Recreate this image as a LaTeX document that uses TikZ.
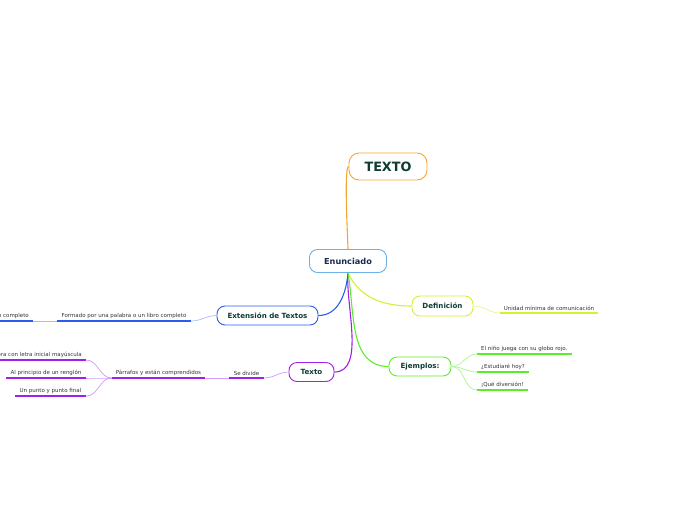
\documentclass[tikz,border=0pt]{standalone}
\usepackage{fontspec}
\setmainfont{DejaVu Sans}
\usetikzlibrary{positioning,arrows.meta}
\definecolor{mmtexto}{HTML}{0E3B34}
\definecolor{mmcentro}{HTML}{1A2A4C}
\definecolor{mmgris}{HTML}{333333}
\definecolor{mmnaranja}{HTML}{F7A531}
\definecolor{mmceleste}{HTML}{6CB2E8}
\definecolor{mmazul}{HTML}{2D5BEA}
\definecolor{mmazulclaro}{HTML}{A6C0F7}
\definecolor{mmmorado}{HTML}{A21EEB}
\definecolor{mmmoradoclaro}{HTML}{D39BF7}
\definecolor{mmamarillo}{HTML}{D2F232}
\definecolor{mmamarilloclaro}{HTML}{E8F88E}
\definecolor{mmverde}{HTML}{5AEE2A}
\definecolor{mmverdeclaro}{HTML}{A8F590}
\tikzset{
  mmtema/.style={draw, fill=white, rounded corners=8pt, line width=0.9pt, align=center,
                 text=mmtexto, font=\fontsize{7.1}{8}\selectfont\bfseries, inner sep=2pt},
  mmrama/.style={inner xsep=4pt, inner ysep=2.2pt, anchor=south, text=mmgris,
                 font=\fontsize{5.5}{6.5}\selectfont},
  mmlinea/.style={line width=1.1pt},
  mmfina/.style={line width=0.7pt},
}
% subrayado de las ramas
\newcommand{\mmsubraya}[2]{\draw[#1, line width=1.3pt] (#2.south west) -- (#2.south east);}

\begin{document}
\begin{tikzpicture}[x=1pt, y=-1pt]
        \useasboundingbox (0,0) rectangle (696,520);
        \clip (0,0) rectangle (696,520);
        % ---------------- temas ----------------
        \node[mmtema, draw=mmceleste, minimum width=77pt, minimum height=23pt, text=mmcentro,
              font=\fontsize{8.2}{9}\selectfont\bfseries] (enun) at (348,261) {Enunciado};
        \node[mmtema, draw=mmnaranja, minimum width=78pt, minimum height=27pt, rounded corners=10pt,
              font=\fontsize{12.8}{14}\selectfont\bfseries] (titulo) at (388,166.5) {TEXTO};
        \node[mmtema, draw=mmazul, minimum width=101pt, minimum height=19pt] (ext) at (267.5,315.5) {Extensión de Textos};
        \node[mmtema, draw=mmmorado, minimum width=45pt, minimum height=19pt] (txt) at (311.5,372) {Texto};
        \node[mmtema, draw=mmamarillo, minimum width=61pt, minimum height=20pt] (def) at (442.5,306) {Definición};
        \node[mmtema, draw=mmverde, minimum width=62pt, minimum height=19pt] (ejem) at (420,366.5) {Ejemplos:};
        % ---------------- ramas ----------------
        \node[mmrama, minimum width=134pt] (formado) at (124,321) {Formado por una palabra o un libro completo};
        \node[mmrama, anchor=south east] (libro) at (33,321) {Un libro completo};
        \node[mmrama, minimum width=35pt] (divide) at (246.5,378) {Se divide};
        \node[mmrama, minimum width=91pt] (parrafos) at (158.5,378) {Párrafos y están comprendidos};
        \node[mmrama, anchor=south east] (mayus) at (86,360) {Palabra con letra inicial mayúscula};
        \node[mmrama, minimum width=80pt] (renglon) at (46,378) {Al principio de un renglón};
        \node[mmrama, minimum width=71pt] (punto) at (50.5,396) {Un punto y punto final};
        \node[mmrama, minimum width=98pt] (unidad) at (549,313) {Unidad mínima de comunicación};
        \node[mmrama, anchor=south west] (nino) at (477,354) {El niño juega con su globo rojo.};
        \node[mmrama, anchor=south west] (estudio) at (477,372) {¿Estudiaré hoy?};
        \node[mmrama, anchor=south west] (divers) at (477,390) {¡Qué diversión!};
        % ---------------- subrayados ----------------
        \mmsubraya{mmazul}{formado}
        \mmsubraya{mmazul}{libro}
        \mmsubraya{mmmorado}{divide}
        \mmsubraya{mmmorado}{parrafos}
        \mmsubraya{mmmorado}{mayus}
        \mmsubraya{mmmorado}{renglon}
        \mmsubraya{mmmorado}{punto}
        \mmsubraya{mmamarillo}{unidad}
        \mmsubraya{mmverde}{nino}
        \mmsubraya{mmverde}{estudio}
        \mmsubraya{mmverde}{divers}
        % ---------------- conectores ----------------
        \draw[mmlinea, mmnaranja] (enun.north) to[out=90, in=180, looseness=0.15] (titulo.west);
        \draw[mmlinea, mmazul] (enun.south) to[out=-95, in=0] (ext.east);
        \draw[mmlinea, mmmorado] (enun.south) to[out=-95, in=0, looseness=0.8] (txt.east);
        \draw[mmlinea, mmamarillo] (enun.south) to[out=-65, in=180] (def.west);
        \draw[mmlinea, mmverde] (enun.south) to[out=-80, in=180] (ejem.west);
        \draw[mmfina, mmazulclaro] (ext.west) to[out=180, in=0] (formado.south east);
        \draw[mmfina, mmazulclaro] (formado.south west) -- (libro.south east);
        \draw[mmfina, mmmoradoclaro] (txt.west) to[out=180, in=0] (divide.south east);
        \draw[mmfina, mmmoradoclaro] (divide.south west) -- (parrafos.south east);
        \foreach \hoja in {mayus,renglon,punto}
          {\draw[mmfina, mmmoradoclaro] (parrafos.south west) to[out=180, in=0] (\hoja.south east);}
        \draw[mmfina, mmamarilloclaro] (def.east) to[out=0, in=180] (unidad.south west);
        \foreach \hoja in {nino,estudio,divers}
          {\draw[mmfina, mmverdeclaro] (ejem.east) to[out=0, in=180] (\hoja.south west);}
    \end{tikzpicture}
\end{document}
